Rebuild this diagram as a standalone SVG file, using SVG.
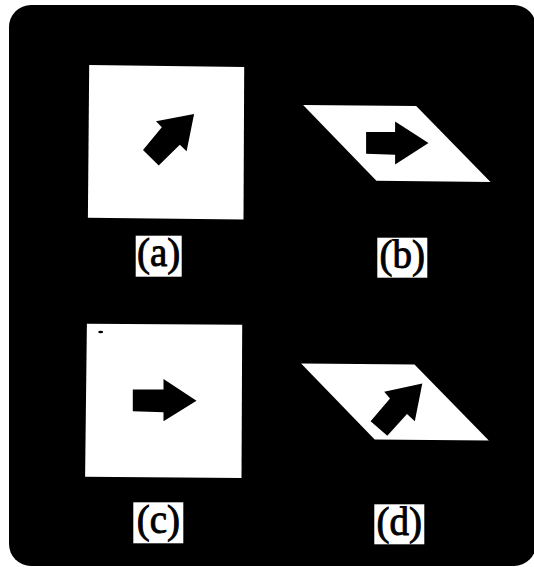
<svg xmlns="http://www.w3.org/2000/svg" width="534" height="567" viewBox="0 0 534 567">
<style>
.panel{fill:#ffffff}
.arrow{fill:#000000}
.lbox{fill:#ffffff}
.lbl{font-family:"Liberation Serif","Times New Roman",serif;font-size:39px;fill:#000000;stroke:#000000;stroke-width:0.9px;text-anchor:middle}
</style>
<rect x="0" y="0" width="534" height="567" fill="#ffffff"/>
<rect id="frame" x="9" y="5" width="527" height="561" rx="22" ry="22" fill="#000000"/>
<g id="panel-a">
<polygon class="panel" points="89.2,65.1 244.2,66.9 243.5,219.5 87.9,217.7"/>
<polygon class="arrow" points="194.1,113.9 156,121.2 161.8,127.3 143,150.1 158.7,165.6 179.8,144.7 186.6,151.2"/>
<rect class="lbox" x="135.7" y="235.7" width="46" height="41"/>
<text class="lbl" x="158.7" y="266">(a)</text>
</g>
<g id="panel-b">
<polygon class="panel" points="303.1,104.9 416.2,106 490.5,181.9 376.4,180.8"/>
<polygon class="arrow" points="366.1,132 395.1,132 395.1,121.5 428.5,142.9 395.1,164.6 395.1,154.8 366.1,153.7"/>
<rect class="lbox" x="377.3" y="237.7" width="50" height="40"/>
<text class="lbl" x="402.3" y="268">(b)</text>
</g>
<g id="panel-c">
<polygon class="panel" points="86.9,323.7 242.2,324.8 241.5,478.1 85.1,476.7"/>
<ellipse class="arrow" cx="100.7" cy="332" rx="2.5" ry="1.3"/>
<polygon class="arrow" points="132.8,389.5 163.5,389.5 163.5,379 196.5,400.7 163.5,421.3 163.5,412.3 132.8,411.2"/>
<rect class="lbox" x="133.3" y="502.3" width="50" height="41"/>
<text class="lbl" x="158.3" y="533">(c)</text>
</g>
<g id="panel-d">
<polygon class="panel" points="301.1,363.5 414.5,364.6 488.8,440.5 374.7,439.4"/>
<polygon class="arrow" points="422.3,383.4 384.2,391.7 390,398.5 370.6,421.3 387.3,435.8 407,414.1 414.8,421.3"/>
<rect class="lbox" x="374.3" y="504.3" width="50" height="40"/>
<text class="lbl" x="399.3" y="535">(d)</text>
</g>
<g id="connectors"></g>
</svg>
